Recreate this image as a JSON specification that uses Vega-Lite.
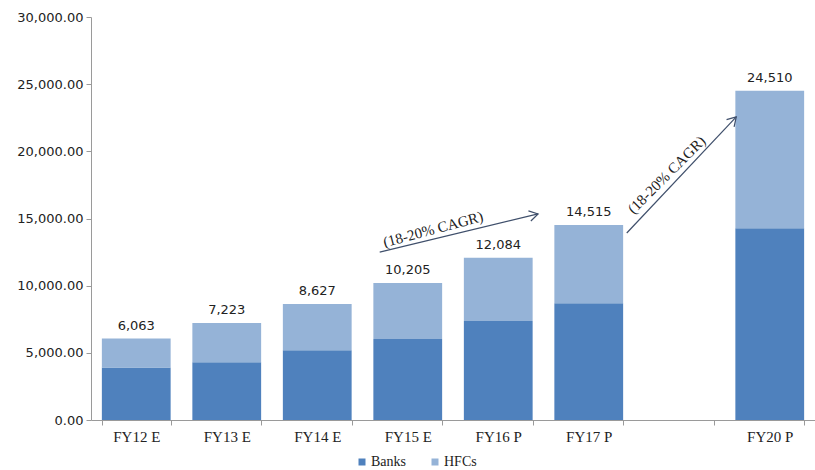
{
  "$schema": "https://vega.github.io/schema/vega-lite/v6.json",
  "width": 724,
  "height": 403,
  "autosize": "none",
  "padding": {"left": 91, "top": 17, "right": 0, "bottom": 50},
  "background": "white",
  "config": {"view": {"stroke": null}},
  "datasets": {
    "stack": [
      {"period": "FY12 E", "segment": "Banks", "value": 3900},
      {"period": "FY12 E", "segment": "HFCs", "value": 2163},
      {"period": "FY13 E", "segment": "Banks", "value": 4300},
      {"period": "FY13 E", "segment": "HFCs", "value": 2923},
      {"period": "FY14 E", "segment": "Banks", "value": 5200},
      {"period": "FY14 E", "segment": "HFCs", "value": 3427},
      {"period": "FY15 E", "segment": "Banks", "value": 6030},
      {"period": "FY15 E", "segment": "HFCs", "value": 4175},
      {"period": "FY16 P", "segment": "Banks", "value": 7370},
      {"period": "FY16 P", "segment": "HFCs", "value": 4714},
      {"period": "FY17 P", "segment": "Banks", "value": 8700},
      {"period": "FY17 P", "segment": "HFCs", "value": 5815},
      {"period": "FY20 P", "segment": "Banks", "value": 14280},
      {"period": "FY20 P", "segment": "HFCs", "value": 10230}
    ],
    "totals": [
      {"period": "FY12 E", "total": 6063},
      {"period": "FY13 E", "total": 7223},
      {"period": "FY14 E", "total": 8627},
      {"period": "FY15 E", "total": 10205},
      {"period": "FY16 P", "total": 12084},
      {"period": "FY17 P", "total": 14515},
      {"period": "FY20 P", "total": 24510}
    ],
    "arrows": [
      {"id": "a1", "x1": 3.19, "y1": 12500, "x2": 4.94, "y2": 15340},
      {"id": "a2", "x1": 5.92, "y1": 13920, "x2": 7.13, "y2": 22560}
    ],
    "notes": [
      {"id": "a1", "x": 3.78, "y": 14200, "label": "(18-20% CAGR)"},
      {"id": "a2", "x": 6.36, "y": 18250, "label": "(18-20% CAGR)"}
    ]
  },
  "layer": [
    {
      "layer": [
        {
          "data": {"name": "stack"},
          "mark": {"type": "bar"},
          "encoding": {
            "x": {
              "field": "period", "type": "nominal", "sort": null,
              "scale": {"domain": ["FY12 E", "FY13 E", "FY14 E", "FY15 E", "FY16 P", "FY17 P", " ", "FY20 P"], "paddingInner": 0.24, "paddingOuter": 0.12},
              "axis": {"title": null, "labelAngle": 0, "tickBand": "extent", "labelFont": "Liberation Serif", "labelFontSize": 15, "labelColor": "#222222", "domainColor": "#9a9a9a", "tickColor": "#9a9a9a", "tickSize": 5, "labelPadding": 4}
            },
            "y": {
              "field": "value", "type": "quantitative", "stack": "zero",
              "scale": {"domain": [0, 30000], "nice": false},
              "axis": {"title": null, "values": [0, 5000, 10000, 15000, 20000, 25000, 30000], "format": ",.2f", "grid": false, "labelFont": "DejaVu Sans", "labelFontSize": 13, "labelColor": "#222222", "domainColor": "#9a9a9a", "tickColor": "#9a9a9a", "tickSize": 5, "labelPadding": 3}
            },
            "color": {
              "field": "segment", "type": "nominal",
              "scale": {"domain": ["Banks", "HFCs"], "range": ["#4F81BD", "#95B3D7"]},
              "legend": {"title": null, "orient": "none", "legendX": 264, "legendY": 438, "direction": "horizontal", "symbolType": "square", "symbolSize": 49, "symbolStrokeWidth": 0, "labelFont": "Liberation Serif", "labelFontSize": 14, "labelColor": "#222222", "labelOffset": 2, "columnPadding": 22}
            },
            "order": {"field": "segment", "sort": "ascending"}
          }
        },
        {
          "data": {"name": "totals"},
          "mark": {"type": "text", "font": "DejaVu Sans", "fontSize": 13, "color": "#222222", "baseline": "alphabetic", "dy": -9},
          "encoding": {
            "x": {"field": "period", "type": "nominal", "sort": null},
            "y": {"field": "total", "type": "quantitative", "scale": {"domain": [0, 30000], "nice": false},
              "axis": {"title": null, "values": [0, 5000, 10000, 15000, 20000, 25000, 30000], "format": ",.2f", "grid": false, "labelFont": "DejaVu Sans", "labelFontSize": 13, "labelColor": "#222222", "domainColor": "#9a9a9a", "tickColor": "#9a9a9a", "tickSize": 5, "labelPadding": 3}},
            "text": {"field": "total", "type": "quantitative", "format": ","}
          }
        }
      ]
    },
    {
      "data": {"name": "arrows"},
      "mark": {"type": "rule", "color": "#3F4F6B", "strokeWidth": 1.2},
      "encoding": {
        "x": {"field": "x1", "type": "quantitative", "scale": {"domain": [0, 8], "nice": false, "zero": false}, "axis": null},
        "x2": {"field": "x2"},
        "y": {"field": "y1", "type": "quantitative", "scale": {"domain": [0, 30000], "nice": false},
          "axis": {"title": null, "values": [0, 5000, 10000, 15000, 20000, 25000, 30000], "format": ",.2f", "grid": false, "labelFont": "DejaVu Sans", "labelFontSize": 13, "labelColor": "#222222", "domainColor": "#9a9a9a", "tickColor": "#9a9a9a", "tickSize": 5, "labelPadding": 3}},
        "y2": {"field": "y2"}
      }
    },
    {
      "data": {"name": "arrows"},
      "transform": [{"filter": "datum.id == 'a1'"}],
      "mark": {"type": "point", "shape": "M-1,-0.6L0,0L-1,0.6", "filled": false, "stroke": "#3F4F6B", "strokeWidth": 1.2, "size": 300, "angle": -13.6, "opacity": 1},
      "encoding": {
        "x": {"field": "x2", "type": "quantitative", "scale": {"domain": [0, 8], "nice": false, "zero": false}, "axis": null},
        "y": {"field": "y2", "type": "quantitative", "scale": {"domain": [0, 30000], "nice": false},
          "axis": {"title": null, "values": [0, 5000, 10000, 15000, 20000, 25000, 30000], "format": ",.2f", "grid": false, "labelFont": "DejaVu Sans", "labelFontSize": 13, "labelColor": "#222222", "domainColor": "#9a9a9a", "tickColor": "#9a9a9a", "tickSize": 5, "labelPadding": 3}}
      }
    },
    {
      "data": {"name": "arrows"},
      "transform": [{"filter": "datum.id == 'a2'"}],
      "mark": {"type": "point", "shape": "M-1,-0.6L0,0L-1,0.6", "filled": false, "stroke": "#3F4F6B", "strokeWidth": 1.2, "size": 300, "angle": -46.7, "opacity": 1},
      "encoding": {
        "x": {"field": "x2", "type": "quantitative", "scale": {"domain": [0, 8], "nice": false, "zero": false}, "axis": null},
        "y": {"field": "y2", "type": "quantitative", "scale": {"domain": [0, 30000], "nice": false},
          "axis": {"title": null, "values": [0, 5000, 10000, 15000, 20000, 25000, 30000], "format": ",.2f", "grid": false, "labelFont": "DejaVu Sans", "labelFontSize": 13, "labelColor": "#222222", "domainColor": "#9a9a9a", "tickColor": "#9a9a9a", "tickSize": 5, "labelPadding": 3}}
      }
    },
    {
      "data": {"name": "notes"},
      "transform": [{"filter": "datum.id == 'a1'"}],
      "mark": {"type": "text", "font": "Liberation Serif", "fontSize": 15, "color": "#222222", "angle": -15, "align": "center", "baseline": "middle"},
      "encoding": {
        "x": {"field": "x", "type": "quantitative", "scale": {"domain": [0, 8], "nice": false, "zero": false}, "axis": null},
        "y": {"field": "y", "type": "quantitative", "scale": {"domain": [0, 30000], "nice": false},
          "axis": {"title": null, "values": [0, 5000, 10000, 15000, 20000, 25000, 30000], "format": ",.2f", "grid": false, "labelFont": "DejaVu Sans", "labelFontSize": 13, "labelColor": "#222222", "domainColor": "#9a9a9a", "tickColor": "#9a9a9a", "tickSize": 5, "labelPadding": 3}},
        "text": {"field": "label"}
      }
    },
    {
      "data": {"name": "notes"},
      "transform": [{"filter": "datum.id == 'a2'"}],
      "mark": {"type": "text", "font": "Liberation Serif", "fontSize": 15, "color": "#222222", "angle": -45, "align": "center", "baseline": "middle"},
      "encoding": {
        "x": {"field": "x", "type": "quantitative", "scale": {"domain": [0, 8], "nice": false, "zero": false}, "axis": null},
        "y": {"field": "y", "type": "quantitative", "scale": {"domain": [0, 30000], "nice": false},
          "axis": {"title": null, "values": [0, 5000, 10000, 15000, 20000, 25000, 30000], "format": ",.2f", "grid": false, "labelFont": "DejaVu Sans", "labelFontSize": 13, "labelColor": "#222222", "domainColor": "#9a9a9a", "tickColor": "#9a9a9a", "tickSize": 5, "labelPadding": 3}},
        "text": {"field": "label"}
      }
    }
  ],
  "resolve": {"scale": {"x": "independent"}}
}
